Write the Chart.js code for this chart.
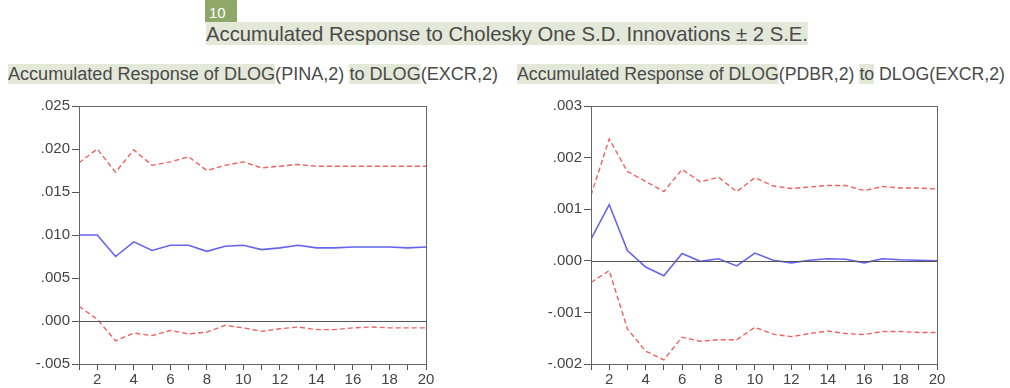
<!DOCTYPE html>
<html>
<head>
<meta charset="utf-8">
<script src="https://cdn.jsdelivr.net/npm/chart.js@4"></script>
<style>
  body { margin: 0; background: #fff; width: 1010px; height: 388px; overflow: hidden; position: relative;
         font-family: "Liberation Sans", Arial, sans-serif; color: #4a4a4a; }
  .badge { position: absolute; left: 205px; top: 0; width: 32px; height: 24px; background: #8fa86a;
           border-radius: 0 0 4px 4px; color: #fff; font-size: 15px; line-height: 26px; text-indent: 4px; }
  .line { position: absolute; white-space: nowrap; transform-origin: 0 0; }
  .hl { background: #e3e8d8; }
  canvas { position: absolute; }
</style>
</head>
<body>
<div class="badge">10</div>
<div class="line" id="title" data-w="602" style="left:206px; top:23px; font-size:21px; line-height:22px;"><span class="hl">Accumulated Response to Cholesky One S.D. Innovations ± 2 S.E.</span></div>
<div class="line" id="sub1" data-w="490" style="left:8px; top:63px; font-size:18px; line-height:22px;"><span class="hl">Accumulated Response of DLOG</span>(PINA,2) <span class="hl">to DLOG</span>(EXCR,2)</div>
<div class="line" id="sub2" data-w="488" style="left:517px; top:63px; font-size:18px; line-height:22px;"><span class="hl">Accumulated Response of DLOG</span>(PDBR,2) <span class="hl">to</span> DLOG(EXCR,2)</div>

<canvas id="c1" width="500" height="293" style="left:0; top:95px;"></canvas>
<canvas id="c2" width="505" height="293" style="left:505px; top:95px;"></canvas>

<script>
const periods = [1, 2, 3, 4, 5, 6, 7, 8, 9, 10, 11, 12, 13, 14, 15, 16, 17, 18, 19, 20];

// DLOG(PINA,2) to DLOG(EXCR,2)
const pinaResp  = [.0100, .0100, .0075, .0092, .0082, .0088, .0088, .0081, .0087, .0088, .0083, .0085, .0088, .0085, .0085, .0086, .0086, .0086, .0085, .0086];
const pinaUpper = [.0184, .0200, .0173, .0199, .0181, .0185, .0191, .0175, .0181, .0185, .0178, .0180, .0182, .0180, .0180, .0180, .0180, .0180, .0180, .0180];
const pinaLower = [.0017, .0002, -.0023, -.0014, -.0017, -.0011, -.0015, -.0013, -.0005, -.0008, -.0012, -.0009, -.0007, -.0010, -.0010, -.0008, -.0007, -.0008, -.0008, -.0008];

// DLOG(PDBR,2) to DLOG(EXCR,2)
const pdbrResp  = [.00042, .00109, .00020, -.00012, -.00029, .00014, -.00001, .00004, -.00010, .00015, .00001, -.00004, .00001, .00004, .00003, -.00004, .00004, .00002, .00001, .00000];
const pdbrUpper = [.00127, .00236, .00173, .00154, .00134, .00177, .00153, .00162, .00134, .00161, .00145, .00140, .00143, .00146, .00146, .00136, .00144, .00141, .00141, .00139];
const pdbrLower = [-.00042, -.00019, -.00132, -.00175, -.00192, -.00148, -.00156, -.00153, -.00153, -.00129, -.00142, -.00147, -.00141, -.00136, -.00141, -.00143, -.00137, -.00137, -.00139, -.00139];

// stretch text lines to the widths seen in the picture
document.querySelectorAll('.line').forEach(el => {
  const w = el.getBoundingClientRect().width;
  el.style.transform = `scaleX(${el.dataset.w / w})`;
});

const frame = {
  id: 'frame',
  afterDatasetsDraw(chart) {
    const { ctx, chartArea: a, scales } = chart;
    const y0 = scales.y.getPixelForValue(0);
    ctx.save();
    ctx.strokeStyle = '#555';
    ctx.lineWidth = 1;
    ctx.beginPath();
    ctx.moveTo(a.left, Math.round(y0) + 0.5);
    ctx.lineTo(a.right, Math.round(y0) + 0.5);
    ctx.stroke();
    ctx.strokeStyle = '#666';
    ctx.strokeRect(Math.round(a.left) + 0.5, Math.round(a.top) + 0.5, Math.round(a.width), Math.round(a.height));
    ctx.restore();
  }
};

const pts = arr => arr.map((v, i) => ({ x: periods[i], y: v }));
const fmt = v => (v < 0 ? '-' : '') + Math.abs(v).toFixed(3).replace(/^0/, '');
const tickFont = { size: 15, family: '"Liberation Sans", Arial, sans-serif' };

function makeChart(id, resp, upper, lower, yMin, yMax, step, yWidth, padRight) {
  const red = { borderColor: '#f26060', borderWidth: 1.4, borderDash: [5, 3], pointRadius: 0, fill: false, tension: 0 };
  return new Chart(document.getElementById(id), {
    type: 'line',
    data: {
      datasets: [
        { data: pts(upper), ...red },
        { data: pts(lower), ...red },
        { data: pts(resp), borderColor: '#6464f0', borderWidth: 1.6, pointRadius: 0, fill: false, tension: 0 }
      ]
    },
    options: {
      responsive: false,
      animation: false,
      layout: { padding: { top: 9, right: padRight, left: 0, bottom: 0 } },
      plugins: { legend: { display: false }, tooltip: { enabled: false } },
      scales: {
        x: {
          type: 'linear', min: 1, max: 20,
          border: { display: false },
          grid: { drawOnChartArea: false, drawTicks: true, tickLength: 6, color: '#555' },
          ticks: {
            stepSize: 1, autoSkip: false, maxRotation: 0, padding: 1,
            color: '#444', font: tickFont,
            callback: v => (v % 2 === 0 ? v : '')
          },
          afterFit: s => { s.height = 24; }
        },
        y: {
          min: yMin, max: yMax,
          border: { display: false },
          grid: { drawOnChartArea: false, drawTicks: true, tickLength: 7, color: '#555' },
          ticks: {
            stepSize: step, padding: 2,
            color: '#444', font: tickFont,
            callback: fmt
          },
          afterFit: s => { s.width = yWidth; }
        }
      }
    },
    plugins: [frame]
  });
}

makeChart('c1', pinaResp, pinaUpper, pinaLower, -.005, .025, .005, 79, 74);
makeChart('c2', pdbrResp, pdbrUpper, pdbrLower, -.002, .003, .001, 86, 73);
</script>
</body>
</html>
